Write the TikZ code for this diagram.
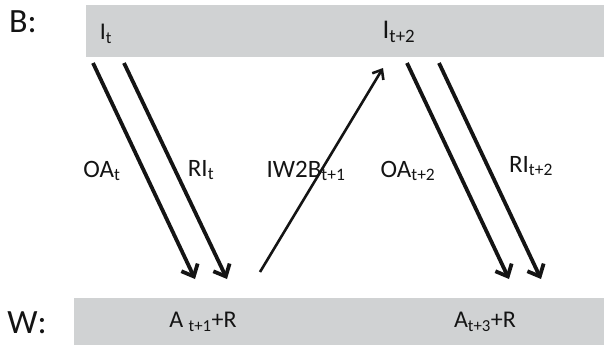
\documentclass[tikz,border=0pt]{standalone}
\usepackage{fontspec}
\setmainfont{Carlito}
\usetikzlibrary{arrows.meta}
\definecolor{barfill}{RGB}{208,210,211}
\definecolor{ink}{RGB}{20,20,20}
\newcommand{\sz}[1]{\fontsize{#1}{#1}\selectfont}
\begin{document}
\begin{tikzpicture}[x=1pt,y=-1pt,
  bar/.style={fill=barfill,draw=none,inner sep=0pt,anchor=north west},
  rowlbl/.style={inner sep=0pt,font=\sz{34},text=ink},
  barlbl/.style={inner sep=0pt,font=\sz{24},text=ink},
  flowlbl/.style={inner sep=0pt,font=\sz{25},text=ink},
  flow/.style={draw=ink,line width=3.8pt,
    -{Straight Barb[length=10pt,width=18pt,line width=3.8pt]}},
  thinflow/.style={draw=ink,line width=2.6pt,
    -{Straight Barb[length=8pt,width=13pt,line width=2.6pt]}}]
\useasboundingbox (0,0) rectangle (604,345);

% the two rows
\node[bar,minimum width=518pt,minimum height=52pt] (Brow) at (86,5) {};
\node[bar,minimum width=530pt,minimum height=47pt] (Wrow) at (74,298) {};

\node[rowlbl] (Blbl) at (23,22) {B:};
\node[rowlbl] (Wlbl) at (27,323) {W:};

% contents of the rows
\node[barlbl] (It) at (106,34) {I\textsubscript{t}};
\node[barlbl,font=\sz{27}] (It2) at (399,32) {I\textsubscript{t+2}};
\node[barlbl] (A1) at (203,322) {A \textsubscript{t+1}+R};
\node[barlbl] (A3) at (485,322) {A\textsubscript{t+3}+R};

% arrow end points
\coordinate (oa1s) at (93,63);   \coordinate (oa1e) at (195,279);
\coordinate (ri1s) at (124,63);  \coordinate (ri1e) at (227,279);
\coordinate (iws)  at (260,272); \coordinate (iwe)  at (383,68);
\coordinate (oa2s) at (407,63);  \coordinate (oa2e) at (509,279);
\coordinate (ri2s) at (439,63);  \coordinate (ri2e) at (541,279);

\draw[flow] (oa1s) -- (oa1e);
\draw[flow] (ri1s) -- (ri1e);
\draw[thinflow] (iws) -- (iwe);
\draw[flow] (oa2s) -- (oa2e);
\draw[flow] (ri2s) -- (ri2e);

% arrow labels
\node[flowlbl] (OAt) at (102,171) {OA\textsubscript{t}};
\node[flowlbl] (RIt) at (201,170) {RI\textsubscript{t}};
\node[flowlbl] (IW) at (306,171) {IW2B\textsubscript{t+1}};
\node[flowlbl] (OAt2) at (408,171) {OA\textsubscript{t+2}};
\node[flowlbl] (RIt2) at (531,166) {RI\textsubscript{t+2}};
\end{tikzpicture}
\end{document}
